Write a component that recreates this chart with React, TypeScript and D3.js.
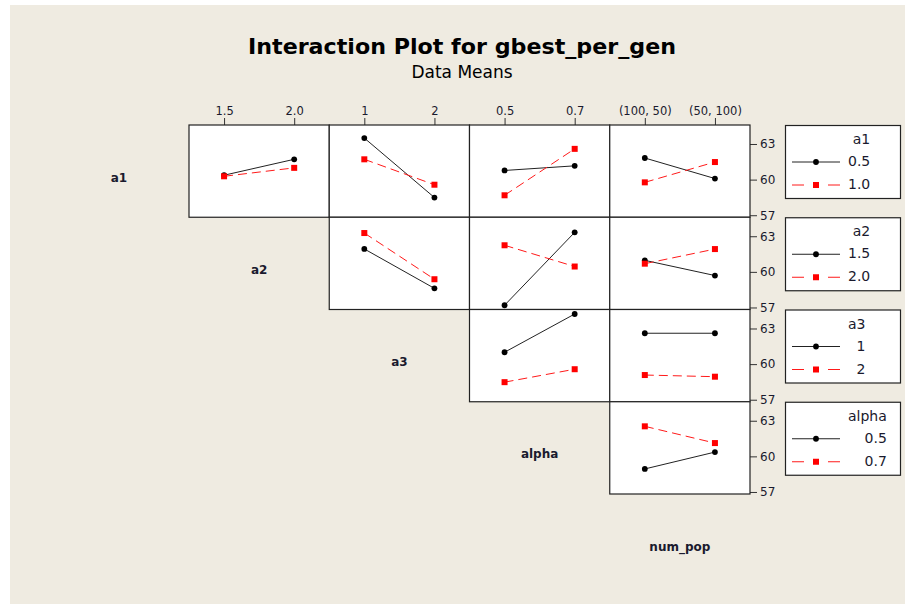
import { useEffect, useRef } from "react";
import * as d3 from "d3";

// Factors: rows are trace factors (legend), columns are x factors
const factorNames = ["a1", "a2", "a3", "alpha", "num_pop"];
const levelsA1 = ["0.5", "1.0"];
const levelsA2 = ["1.5", "2.0"];
const levelsA3 = ["1", "2"];
const levelsAlpha = ["0.5", "0.7"];
const levelsNumPop = ["(100, 50)", "(50, 100)"];
const factorLevels = [levelsA1, levelsA2, levelsA3, levelsAlpha, levelsNumPop];

// Data means: [trace level][x level]
const a1ByA2 = [[60.37, 61.71], [60.28, 60.99]];
const a1ByA3 = [[63.5, 58.49], [61.71, 59.57]];
const a1ByAlpha = [[60.77, 61.16], [58.68, 62.59]];
const a1ByNumPop = [[61.82, 60.09], [59.77, 61.48]];
const a2ByA3 = [[61.93, 58.61], [63.27, 59.38]];
const a2ByAlpha = [[57.19, 63.33], [62.24, 60.45]];
const a2ByNumPop = [[60.97, 59.69], [60.69, 61.92]];
const a3ByAlpha = [[61.0, 64.22], [58.48, 59.57]];
const a3ByNumPop = [[62.6, 62.6], [59.08, 58.94]];
const alphaByNumPop = [[58.94, 60.36], [62.53, 61.12]];

const yTicks = [57, 60, 63];
const yDomain: [number, number] = [56.83, 64.6];

// row = trace factor index, col = x factor index - 1
const panels = [
  { row: 0, col: 0, means: a1ByA2 },
  { row: 0, col: 1, means: a1ByA3 },
  { row: 0, col: 2, means: a1ByAlpha },
  { row: 0, col: 3, means: a1ByNumPop },
  { row: 1, col: 1, means: a2ByA3 },
  { row: 1, col: 2, means: a2ByAlpha },
  { row: 1, col: 3, means: a2ByNumPop },
  { row: 2, col: 2, means: a3ByAlpha },
  { row: 2, col: 3, means: a3ByNumPop },
  { row: 3, col: 3, means: alphaByNumPop },
];

const W = 909;
const H = 605;
const FONT = "'DejaVu Sans', Verdana, sans-serif";

export default function App() {
  const svgRef = useRef<SVGSVGElement>(null);

  useEffect(() => {
    if (!svgRef.current) return;
    const svg = d3.select(svgRef.current);
    svg.selectAll("*").remove();

    const x0 = 189;
    const y0 = 125;
    const colW = 140.25;
    const rowH = 92.25;
    const nRows = 4;

    svg
      .append("rect")
      .attr("x", 10)
      .attr("y", 5)
      .attr("width", 895)
      .attr("height", 599)
      .attr("fill", "#efebe1");

    // Titles
    svg
      .append("text")
      .attr("x", 462)
      .attr("y", 54)
      .attr("text-anchor", "middle")
      .attr("font-family", FONT)
      .attr("font-weight", "bold")
      .attr("font-size", 22)
      .attr("textLength", 428)
      .attr("lengthAdjust", "spacingAndGlyphs")
      .attr("fill", "#000")
      .text("Interaction Plot for gbest_per_gen");

    svg
      .append("text")
      .attr("x", 462)
      .attr("y", 78)
      .attr("text-anchor", "middle")
      .attr("font-family", FONT)
      .attr("font-size", 17)
      .attr("fill", "#000")
      .text("Data Means");

    const colLeft = (c: number) => x0 + c * colW;
    const rowTop = (r: number) => y0 + r * rowH;

    const xScale = (c: number) =>
      d3
        .scalePoint<string>()
        .domain(factorLevels[c + 1])
        .range([colLeft(c), colLeft(c + 1)])
        .padding(0.5);

    const yScale = (r: number) =>
      d3.scaleLinear().domain(yDomain).range([rowTop(r + 1), rowTop(r)]);

    // Top axes (x levels of each column)
    for (let c = 0; c < 4; c++) {
      const x = xScale(c);
      const g = svg.append("g").attr("transform", `translate(0,${y0})`);
      g.call(d3.axisTop(x).tickSize(7).tickPadding(3))
        .call((s) => s.select(".domain").remove())
        .call((s) => s.selectAll(".tick line").attr("stroke", "#333"))
        .call((s) =>
          s
            .selectAll(".tick text")
            .attr("font-family", FONT)
            .attr("font-size", 11.5)
            .attr("fill", "#1a1a2e"),
        );
    }

    // Right axes per row
    for (let r = 0; r < nRows; r++) {
      const y = yScale(r);
      svg
        .append("g")
        .attr("transform", `translate(${colLeft(4)},0)`)
        .call(d3.axisRight(y).tickValues(yTicks).tickSize(7).tickPadding(3))
        .call((s) => s.select(".domain").remove())
        .call((s) => s.selectAll(".tick line").attr("stroke", "#333"))
        .call((s) =>
          s
            .selectAll(".tick text")
            .attr("font-family", FONT)
            .attr("font-size", 12)
            .attr("fill", "#1a1a2e"),
        );
    }

    // Panels
    const sq = 6;
    panels.forEach((p) => {
      const x = xScale(p.col);
      const y = yScale(p.row);
      const xLevels = factorLevels[p.col + 1];
      const g = svg.append("g");
      g.append("rect")
        .attr("x", colLeft(p.col))
        .attr("y", rowTop(p.row))
        .attr("width", colW)
        .attr("height", rowH)
        .attr("fill", "#fff")
        .attr("stroke", "#222")
        .attr("stroke-width", 1.2);

      p.means.forEach((series, si) => {
        const pts = series.map((v, i) => [x(xLevels[i]) as number, y(v)] as [number, number]);
        g.append("path")
          .attr("d", d3.line()(pts))
          .attr("fill", "none")
          .attr("stroke", si === 0 ? "#222" : "#ff1a1a")
          .attr("stroke-width", 1)
          .attr("stroke-dasharray", si === 0 ? null : "9,5");
        pts.forEach(([px, py]) => {
          if (si === 0) {
            g.append("circle").attr("cx", px).attr("cy", py).attr("r", 2.9).attr("fill", "#000");
          } else {
            g.append("rect")
              .attr("x", px - sq / 2)
              .attr("y", py - sq / 2)
              .attr("width", sq)
              .attr("height", sq)
              .attr("fill", "#ff0000");
          }
        });
      });
    });

    // Factor labels on the diagonal
    factorNames.forEach((name, i) => {
      svg
        .append("text")
        .attr("x", colLeft(i - 1) + colW / 2)
        .attr("y", rowTop(i) + rowH / 2 + 7)
        .attr("text-anchor", "middle")
        .attr("dominant-baseline", "middle")
        .attr("font-family", FONT)
        .attr("font-weight", "bold")
        .attr("font-size", 12)
        .attr("fill", "#1a1a2e")
        .text(name);
    });

    // Legends
    for (let r = 0; r < nRows; r++) {
      const top = rowTop(r);
      const lg = svg.append("g");
      lg.append("rect")
        .attr("x", 785.5)
        .attr("y", top + 0.5)
        .attr("width", 115)
        .attr("height", 73)
        .attr("fill", "#fff")
        .attr("stroke", "#222")
        .attr("stroke-width", 1.2);

      const texts = [factorNames[r], ...factorLevels[r]];
      const nodes = texts.map((t, i) =>
        lg
          .append("text")
          .attr("y", i === 0 ? top + 15 : top + 37 + (i - 1) * 23)
          .attr("dominant-baseline", "middle")
          .attr("text-anchor", "end")
          .attr("font-family", FONT)
          .attr("font-size", 14)
          .attr("fill", "#1a1a2e")
          .text(t),
      );
      const maxW = d3.max(nodes, (n) => (n.node() as SVGTextElement).getComputedTextLength()) ?? 20;
      nodes.forEach((n) => n.attr("x", 848 + maxW));

      // black entry
      const y1 = top + 37;
      lg.append("line").attr("x1", 792).attr("x2", 840).attr("y1", y1).attr("y2", y1).attr("stroke", "#222");
      lg.append("circle").attr("cx", 816).attr("cy", y1).attr("r", 2.9).attr("fill", "#000");
      // red entry
      const y2 = top + 60;
      lg.append("line").attr("x1", 792).attr("x2", 804).attr("y1", y2).attr("y2", y2).attr("stroke", "#ff1a1a");
      lg.append("line").attr("x1", 828).attr("x2", 840).attr("y1", y2).attr("y2", y2).attr("stroke", "#ff1a1a");
      lg.append("rect")
        .attr("x", 816 - sq / 2)
        .attr("y", y2 - sq / 2)
        .attr("width", sq)
        .attr("height", sq)
        .attr("fill", "#ff0000");
    }
  }, []);

  return (
    <svg
      ref={svgRef}
      width={W}
      height={H}
      style={{ position: "absolute", left: 0, top: 0, background: "#fff" }}
    />
  );
}
